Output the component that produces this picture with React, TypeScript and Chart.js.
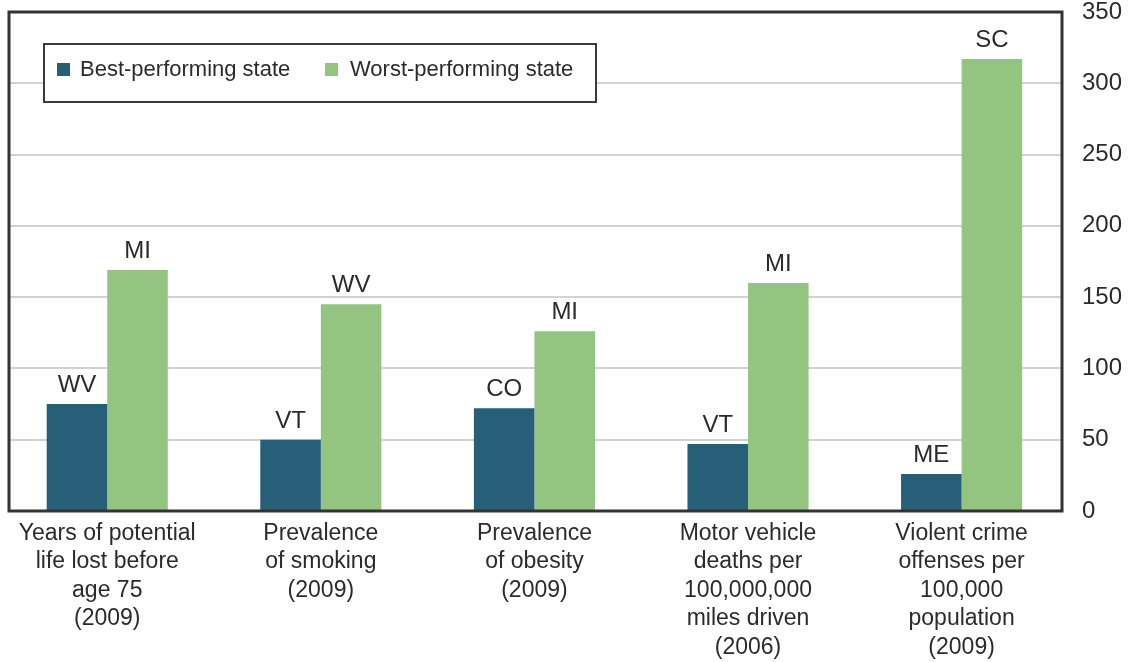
import React, { useEffect, useRef } from "react";
import { Chart, registerables } from "chart.js";

Chart.register(...registerables);

const categories: string[][] = [
  ["Years of potential", "life lost before", "age 75", "(2009)"],
  ["Prevalence", "of smoking", "(2009)"],
  ["Prevalence", "of obesity", "(2009)"],
  ["Motor vehicle", "deaths per", "100,000,000", "miles driven", "(2006)"],
  ["Violent crime", "offenses per", "100,000", "population", "(2009)"],
];
const bestValues = [75, 50, 72, 47, 26];
const worstValues = [169, 145, 126, 160, 317];
const bestStates = ["WV", "VT", "CO", "VT", "ME"];
const worstStates = ["MI", "WV", "MI", "MI", "SC"];
const seriesNames = ["Best-performing state", "Worst-performing state"];
const yTicks = [0, 50, 100, 150, 200, 250, 300, 350];

const BEST_COLOR = "#285f78";
const WORST_COLOR = "#93c580";
const FONT = "'Liberation Sans', Arial, sans-serif";
const TEXT = "#2b2b2b";

const framePlugin = {
  id: "frame",
  afterDatasetsDraw(chart: any) {
    const { ctx, chartArea } = chart;
    const stateLists = [bestStates, worstStates];
    ctx.save();
    ctx.font = `24px ${FONT}`;
    ctx.fillStyle = TEXT;
    ctx.textAlign = "center";
    ctx.textBaseline = "alphabetic";
    chart.data.datasets.forEach((_: any, di: number) => {
      const meta = chart.getDatasetMeta(di);
      meta.data.forEach((el: any, i: number) => {
        ctx.fillText(stateLists[di][i], el.x, el.y - 12);
      });
    });
    // frame
    ctx.strokeStyle = "#333333";
    ctx.lineWidth = 3;
    ctx.strokeRect(chartArea.left, chartArea.top, chartArea.right - chartArea.left, chartArea.bottom - chartArea.top);
    // legend
    const bx = 44, by = 44, bw = 552, bh = 58;
    ctx.fillStyle = "#ffffff";
    ctx.fillRect(bx, by, bw, bh);
    ctx.lineWidth = 2;
    ctx.strokeStyle = "#3a3a3a";
    ctx.strokeRect(bx, by, bw, bh);
    ctx.font = `22px ${FONT}`;
    ctx.textAlign = "left";
    ctx.textBaseline = "middle";
    const items = [
      { x: 57, tx: 80, color: BEST_COLOR, label: seriesNames[0] },
      { x: 325, tx: 350, color: WORST_COLOR, label: seriesNames[1] },
    ];
    items.forEach((it) => {
      ctx.fillStyle = it.color;
      ctx.fillRect(it.x, 63, 13, 13);
      ctx.fillStyle = TEXT;
      ctx.fillText(it.label, it.tx, 70);
    });
    ctx.restore();
  },
};

export default function App() {
  const ref = useRef<HTMLCanvasElement | null>(null);
  useEffect(() => {
    document.body.style.margin = "0";
    const canvas = ref.current;
    if (!canvas) return;
    const chart = new Chart(canvas, {
      type: "bar",
      data: {
        datasets: [
          {
            label: seriesNames[0],
            data: bestValues.map((v, i) => ({ x: i, y: v })),
            backgroundColor: BEST_COLOR,
            borderWidth: 0,
          },
          {
            label: seriesNames[1],
            data: worstValues.map((v, i) => ({ x: i, y: v })),
            backgroundColor: WORST_COLOR,
            borderWidth: 0,
          },
        ] as any,
      },
      options: {
        animation: false,
        responsive: false,
        maintainAspectRatio: false,
        layout: { padding: { left: 9, top: 12, right: 0, bottom: 0 } },
        datasets: { bar: { categoryPercentage: 0.567, barPercentage: 1 } },
        plugins: {
          legend: { display: false },
          tooltip: { enabled: false },
        },
        scales: {
          x: {
            type: "linear",
            min: -0.46,
            max: 4.47,
            offset: false,
            grid: { display: false },
            border: { display: false },
            afterFit: (s: any) => {
              s.height = 151;
              s.paddingLeft = 0;
              s.paddingRight = 0;
            },
            ticks: {
              stepSize: 1,
              includeBounds: false,
              autoSkip: false,
              maxRotation: 0,
              padding: 0,
              color: TEXT,
              font: { family: FONT, size: 23, lineHeight: 1.24 },
              callback: (v: any) => (Number.isInteger(v) && categories[v] ? categories[v] : ""),
            },
          },
          y: {
            type: "linear",
            position: "right",
            min: 0,
            max: 350,
            afterFit: (s: any) => {
              s.width = 70;
              s.paddingTop = 0;
              s.paddingBottom = 0;
            },
            afterBuildTicks: (s: any) => {
              s.ticks = yTicks.map((v) => ({ value: v }));
            },
            grid: { color: "#d2d2d2", lineWidth: 2, drawTicks: false },
            border: { display: false },
            ticks: {
              padding: 20,
              color: TEXT,
              font: { family: FONT, size: 24 },
            },
          },
        },
      } as any,
      plugins: [framePlugin],
    });
    return () => chart.destroy();
  }, []);
  return (
    <div style={{ width: 1132, height: 662 }}>
      <canvas ref={ref} width={1132} height={662} style={{ display: "block" }} />
    </div>
  );
}
